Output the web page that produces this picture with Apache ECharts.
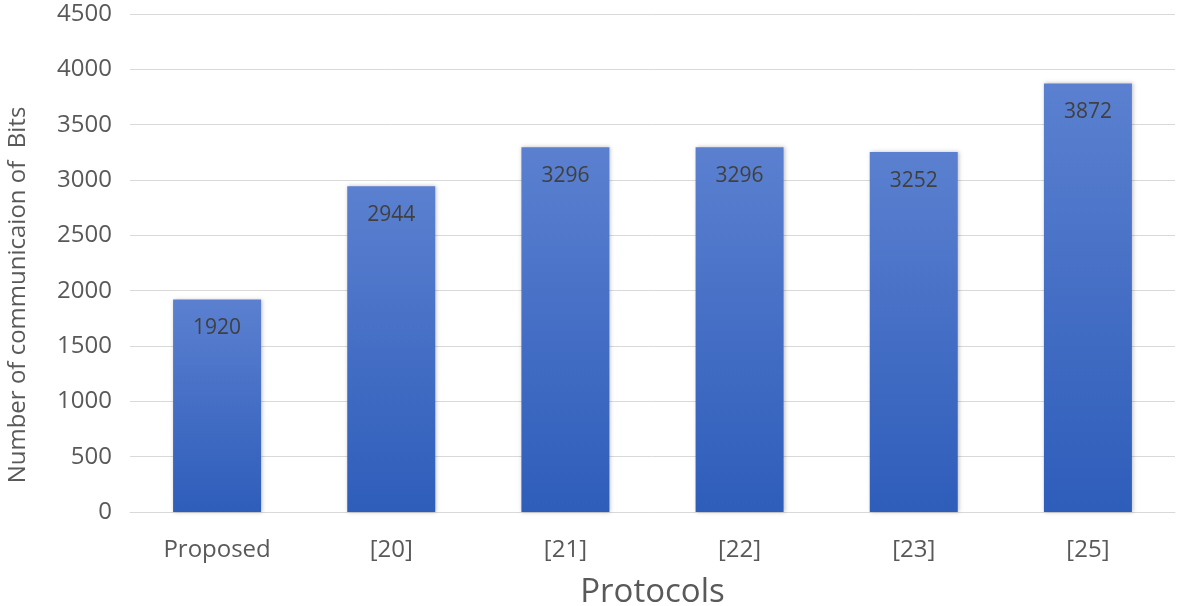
<!DOCTYPE html>
<html lang="en">
<head>
    <meta charset="utf-8">
    <title>Protocols</title>
    <script src="https://cdn.jsdelivr.net/npm/echarts@6/dist/echarts.min.js"></script>
    <style>
        html, body { margin: 0; padding: 0; background: #fff; }
        #main { width: 1181px; height: 606px; }
    </style>
</head>
<body>
<div id="main"></div>
<script type="text/javascript">
    // data
    var protocols = ['Proposed', '[20]', '[21]', '[22]', '[23]', '[25]'];
    var bits = [1920, 2944, 3296, 3296, 3252, 3872];

    var myChart = echarts.init(document.getElementById('main'));
    var option = {
        animation: false,
        grid: { left: 130, right: 6, top: 14, bottom: 94, containLabel: false, outerBoundsMode: 'none' },
        xAxis: {
            type: 'category',
            data: protocols,
            name: 'Protocols',
            nameLocation: 'middle',
            nameGap: 64,
            nameTextStyle: { fontSize: 33, color: '#595959', fontFamily: 'Open Sans' },
            axisLine: { lineStyle: { color: '#d9d9d9', width: 1 } },
            axisTick: { show: false },
            axisLabel: { fontSize: 24, color: '#595959', margin: 26, fontFamily: 'Open Sans' }
        },
        yAxis: {
            type: 'value',
            min: 0,
            max: 4500,
            interval: 500,
            name: 'Number of communicaion of  Bits',
            nameLocation: 'middle',
            nameGap: 100,
            // right padding pushes the rotated title a bit lower, as in the picture
            nameTextStyle: { fontSize: 24, color: '#595959', fontFamily: 'Open Sans', padding: [0, 64, 0, 0] },
            axisLine: { show: false },
            axisTick: { show: false },
            axisLabel: {
                fontSize: 24, color: '#595959', margin: 18, fontFamily: 'Open Sans',
                formatter: function (v) { return String(v); }
            },
            splitLine: { lineStyle: { color: '#d9d9d9', width: 1 } }
        },
        series: [{
            type: 'bar',
            data: bits,
            barWidth: 88,
            itemStyle: {
                color: new echarts.graphic.LinearGradient(0, 0, 0, 1, [
                    { offset: 0, color: '#5b80d0' },
                    { offset: 1, color: '#2e5dba' }
                ]),
                shadowBlur: 4,
                shadowColor: 'rgba(0,0,0,0.25)',
                shadowOffsetX: 1
            },
            label: {
                show: true,
                position: 'insideTop',
                distance: 18,
                fontSize: 21,
                color: '#404040',
                fontFamily: 'Open Sans'
            }
        }]
    };
    myChart.setOption(option);
</script>
</body>
</html>
